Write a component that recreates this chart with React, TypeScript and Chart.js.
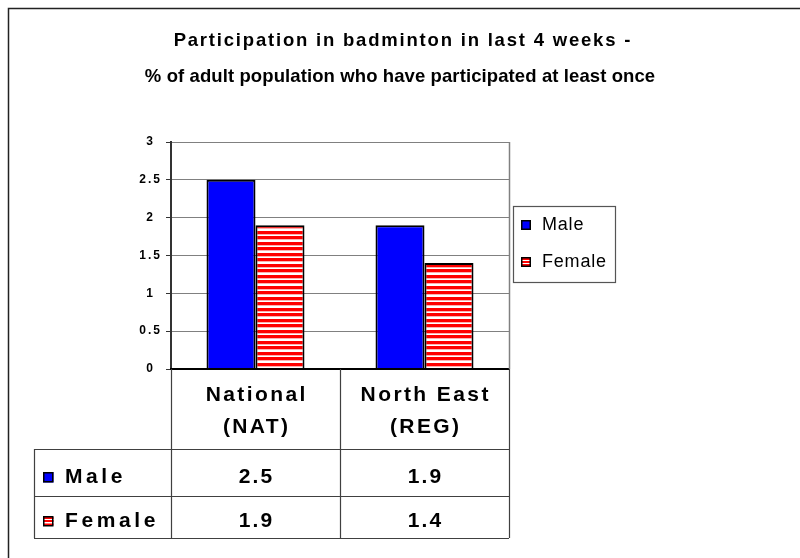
import React, { useEffect, useRef } from 'react';
import { Chart, registerables } from 'chart.js';

Chart.register(...registerables);

const TITLE_LINES = [
  'Participation in badminton in last 4 weeks -',
  '% of adult population who have participated at least once',
];
const CATEGORIES = ['National (NAT)', 'North East (REG)'];
const CATEGORY_LINES = [
  ['National', '(NAT)'],
  ['North East', '(REG)'],
];
const SERIES_NAMES = ['Male', 'Female'];
const MALE_VALUES = [2.5, 1.9];
const FEMALE_VALUES = [1.9, 1.4];
const Y_MIN = 0;
const Y_MAX = 3;
const Y_STEP = 0.5;

const FONT = '"Liberation Sans", Arial, sans-serif';
const BLUE = '#0000ff';
const RED = '#ff0000';

function makeStripePattern(ctx: CanvasRenderingContext2D) {
  const c = document.createElement('canvas');
  c.width = 4;
  c.height = 11;
  const g = c.getContext('2d')!;
  const rows = ['R', 'R', 'R', 'P', 'W', 'R', 'R', 'R', 'P', 'W', 'W'];
  rows.forEach((r, i) => {
    g.fillStyle = r === 'R' ? RED : r === 'P' ? '#ffb0b0' : '#ffffff';
    g.fillRect(0, i, 4, 1);
  });
  return ctx.createPattern(c, 'repeat')!;
}

function spacedText(
  ctx: CanvasRenderingContext2D,
  s: string,
  x: number,
  y: number,
  font: string,
  ls: number,
  align: 'left' | 'center' | 'right',
) {
  ctx.save();
  ctx.font = font;
  (ctx as any).letterSpacing = '0px';
  const w = ctx.measureText(s).width + ls * (s.length - 1);
  let left = x;
  if (align === 'center') left = x - w / 2;
  if (align === 'right') left = x - w;
  (ctx as any).letterSpacing = ls + 'px';
  ctx.textAlign = 'left';
  ctx.textBaseline = 'alphabetic';
  ctx.fillStyle = '#000';
  ctx.fillText(s, left, y);
  ctx.restore();
}

function drawMarker(ctx: CanvasRenderingContext2D, x: number, y: number, size: number, striped: boolean) {
  ctx.save();
  ctx.fillStyle = striped ? '#ffffff' : BLUE;
  ctx.fillRect(x, y, size, size);
  if (striped) {
    ctx.fillStyle = RED;
    const bands = [1, Math.round(size / 2) - 1, size - 3];
    bands.forEach((b) => ctx.fillRect(x, y + b, size, 2));
  }
  ctx.strokeStyle = '#000';
  ctx.lineWidth = 1.5;
  ctx.strokeRect(x + 0.75, y + 0.75, size - 1.5, size - 1.5);
  ctx.restore();
}

const decorPlugin = {
  id: 'decor',
  beforeDraw(chart: any) {
    const ctx = chart.ctx as CanvasRenderingContext2D;
    ctx.save();
    ctx.fillStyle = '#ffffff';
    ctx.fillRect(0, 0, chart.width, chart.height);
    ctx.restore();
    (ctx as any).letterSpacing = '2px';
  },
  afterDraw(chart: any) {
    const ctx = chart.ctx as CanvasRenderingContext2D;
    (ctx as any).letterSpacing = '0px';
    const area = chart.chartArea;
    const xs = chart.scales.x;

    // outer frame
    ctx.save();
    ctx.strokeStyle = '#222';
    ctx.lineWidth = 1.5;
    ctx.beginPath();
    ctx.moveTo(8.5, chart.height + 5);
    ctx.lineTo(8.5, 8.5);
    ctx.lineTo(chart.width + 5, 8.5);
    ctx.stroke();
    ctx.restore();

    // title
    const titleFont = `bold 18.5px ${FONT}`;
    spacedText(ctx, TITLE_LINES[0], 402, 46, titleFont, 1.8, 'center');
    spacedText(ctx, TITLE_LINES[1], 400, 82, titleFont, 0.1, 'center');

    // plot right border
    ctx.save();
    ctx.strokeStyle = '#808080';
    ctx.lineWidth = 1.5;
    ctx.beginPath();
    ctx.moveTo(Math.round(area.right) + 0.5, area.top);
    ctx.lineTo(Math.round(area.right) + 0.5, area.bottom);
    ctx.stroke();
    ctx.restore();

    // data table
    const c0 = xs.getPixelForValue(0);
    const c1 = xs.getPixelForValue(1);
    const mid = (c0 + c1) / 2;
    const colEdges = [area.left, mid, area.right];
    const tableLeft = 34;
    const headerBottom = 449;
    const row1Bottom = 496;
    const row2Bottom = 538;
    const al = (v: number) => Math.round(v) + 0.5;

    ctx.save();
    ctx.strokeStyle = '#404040';
    ctx.lineWidth = 1.2;
    ctx.beginPath();
    colEdges.forEach((e) => {
      ctx.moveTo(al(e), area.bottom);
      ctx.lineTo(al(e), row2Bottom);
    });
    ctx.moveTo(al(tableLeft), headerBottom);
    ctx.lineTo(al(tableLeft), row2Bottom);
    [headerBottom, row1Bottom, row2Bottom].forEach((yy) => {
      ctx.moveTo(tableLeft, al(yy));
      ctx.lineTo(area.right, al(yy));
    });
    ctx.stroke();
    ctx.restore();

    const tableFont = `bold 21px ${FONT}`;
    const centers = [c0, c1];
    CATEGORY_LINES.forEach((lines, i) => {
      spacedText(ctx, lines[0], centers[i], 401, tableFont, 2.4, 'center');
      spacedText(ctx, lines[1], centers[i], 433, tableFont, 2.4, 'center');
    });
    const rows = [MALE_VALUES, FEMALE_VALUES];
    const rowBase = [483, 527];
    rows.forEach((vals, r) => {
      drawMarker(ctx, 43, rowBase[r] - 11, 10.5, r === 1);
      spacedText(ctx, SERIES_NAMES[r], 65, rowBase[r], tableFont, 3.6, 'left');
      vals.forEach((v, i) => {
        spacedText(ctx, String(v), centers[i], rowBase[r], tableFont, 2.2, 'center');
      });
    });

    // legend
    ctx.save();
    ctx.strokeStyle = '#555';
    ctx.lineWidth = 1.2;
    ctx.strokeRect(513.5, 206.5, 102, 76);
    ctx.restore();
    const legFont = `18px ${FONT}`;
    drawMarker(ctx, 521, 220, 10, false);
    spacedText(ctx, SERIES_NAMES[0], 542, 230, legFont, 0.8, 'left');
    drawMarker(ctx, 521, 257, 10, true);
    spacedText(ctx, SERIES_NAMES[1], 542, 266.5, legFont, 0.8, 'left');
  },
};

export default function App() {
  const ref = useRef<HTMLCanvasElement | null>(null);

  useEffect(() => {
    const canvas = ref.current!;
    const ctx = canvas.getContext('2d')!;
    const stripes = makeStripePattern(ctx);
    const chart = new Chart(canvas, {
      type: 'bar',
      data: {
        labels: CATEGORIES,
        datasets: [
          {
            label: SERIES_NAMES[0],
            data: MALE_VALUES,
            backgroundColor: BLUE,
            borderColor: '#000',
            borderWidth: 2,
          },
          {
            label: SERIES_NAMES[1],
            data: FEMALE_VALUES,
            backgroundColor: stripes as any,
            borderColor: '#000',
            borderWidth: 2,
          },
        ],
      },
      options: {
        responsive: false,
        animation: false,
        devicePixelRatio: 1,
        layout: { padding: { left: 111, right: 291, top: 142, bottom: 189 } },
        datasets: { bar: { categoryPercentage: 0.58, barPercentage: 1 } } as any,
        plugins: {
          legend: { display: false },
          title: { display: false },
          tooltip: { enabled: false },
        },
        scales: {
          x: {
            type: 'category',
            offset: true,
            grid: { display: false },
            ticks: { display: false },
            border: { display: true, color: '#000', width: 2, z: 1 },
            afterFit: (s: any) => {
              s.height = 0;
            },
          },
          y: {
            min: Y_MIN,
            max: Y_MAX,
            ticks: {
              stepSize: Y_STEP,
              color: '#000',
              font: { family: FONT, size: 12, weight: 'bold' },
              crossAlign: 'center',
              padding: 7,
              callback: (v: any) => String(Number(v)),
            },
            grid: { color: '#808080', lineWidth: 1, tickLength: 5, tickColor: '#333' },
            border: { display: true, color: '#333', width: 2 },
            afterFit: (s: any) => {
              s.width = 60;
            },
          },
        },
      } as any,
      plugins: [decorPlugin],
    });
    return () => chart.destroy();
  }, []);

  return (
    <div style={{ position: 'fixed', left: 0, top: 0, width: 800, height: 558, background: '#fff' }}>
      <canvas ref={ref} width={800} height={558} style={{ display: 'block' }} />
    </div>
  );
}
